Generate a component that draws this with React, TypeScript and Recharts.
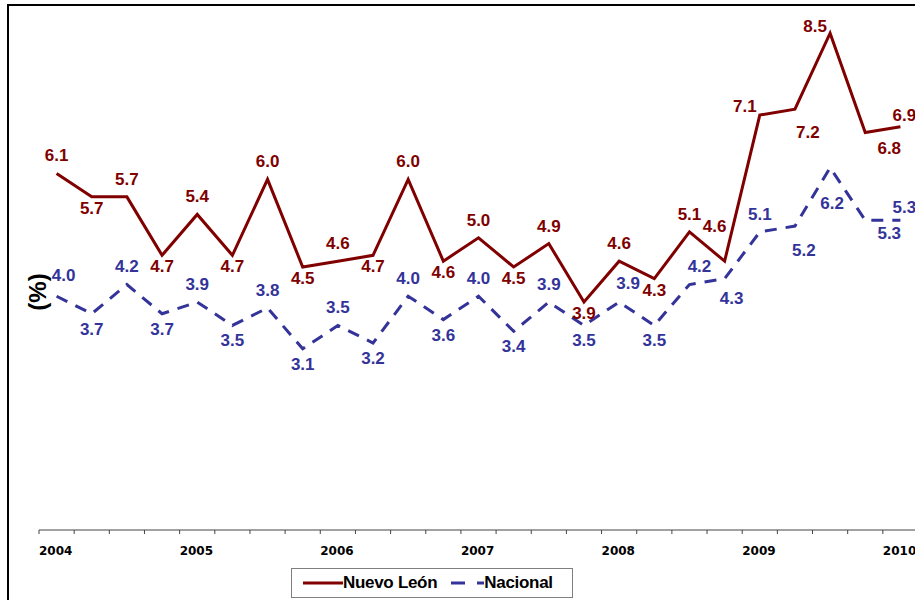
import React from 'react';
import { LineChart, Line, XAxis, YAxis, Legend, LabelList, Label } from 'recharts';

const quarters = [
  '2004-I', '2004-II', '2004-III', '2004-IV',
  '2005-I', '2005-II', '2005-III', '2005-IV',
  '2006-I', '2006-II', '2006-III', '2006-IV',
  '2007-I', '2007-II', '2007-III', '2007-IV',
  '2008-I', '2008-II', '2008-III', '2008-IV',
  '2009-I', '2009-II', '2009-III', '2009-IV',
  '2010-I',
];
const yearLabels = ['2004', '2005', '2006', '2007', '2008', '2009', '2010'];
const nuevoLeon = [6.1, 5.7, 5.7, 4.7, 5.4, 4.7, 6.0, 4.5, 4.6, 4.7, 6.0, 4.6, 5.0, 4.5, 4.9, 3.9, 4.6, 4.3, 5.1, 4.6, 7.1, 7.2, 8.5, 6.8, 6.9];
const nacional = [4.0, 3.7, 4.2, 3.7, 3.9, 3.5, 3.8, 3.1, 3.5, 3.2, 4.0, 3.6, 4.0, 3.4, 3.9, 3.5, 3.9, 3.5, 4.2, 4.3, 5.1, 5.2, 6.2, 5.3, 5.3];

const data = quarters.map((q, i) => ({ q, x: i + 0.5, nl: nuevoLeon[i], nac: nacional[i] }));
const tickPositions = quarters.map((_, i) => i);

const NL_COLOR = '#800000';
const NAC_COLOR = '#333399';
const LABEL_FONT = 'Arial, "Liberation Sans", sans-serif';

// label placement tweaks (dx, dy) relative to point
const nlOverrides: Record<number, [number, number]> = {
  19: [-10, -35], 20: [-15, -9], 21: [13, 23], 22: [-15, -7], 23: [24, 15], 24: [4, -12],
};
const nacOverrides: Record<number, [number, number]> = {
  0: [7, -21], 16: [9, -19], 18: [10, -18], 19: [7, 19], 21: [9, 24], 22: [2, 35], 23: [24, 13], 24: [4, -13],
};

const makeLabel = (color: string, overrides: Record<number, [number, number]>, up: number, down: number) =>
  (props: any) => {
    const { value, index } = props;
    const px = props.x ?? props.viewBox?.x;
    const py = props.y ?? props.viewBox?.y;
    let dx = 0;
    let dy = index % 2 === 0 ? up : down;
    if (overrides[index]) { dx = overrides[index][0]; dy = overrides[index][1]; }
    return (
      <text x={px + dx} y={py + dy} dy="0.35em" textAnchor="middle" fill={color}
        fontFamily={LABEL_FONT} fontWeight="bold" fontSize={17}>
        {Number(value).toFixed(1)}
      </text>
    );
  };

const NlLabel = makeLabel(NL_COLOR, nlOverrides, -18, 11);
const NacLabel = makeLabel(NAC_COLOR, nacOverrides, -18, 15);

const YearTick = (props: any) => {
  const { x, y, payload } = props;
  const v = payload.value;
  if (v % 4 !== 0) return null;
  const label = yearLabels[v / 4];
  return (
    <text x={x} y={y + 19} textAnchor="start" fill="#000" fontFamily='"DejaVu Sans", sans-serif'
      fontWeight="bold" fontSize={12}>{label}</text>
  );
};

const YLabel = (props: any) => {
  const vb = props.viewBox || {};
  const cx = (vb.x ?? 38) + (vb.width ?? 1) - 1;
  const cy = (vb.y ?? 4) + (vb.height ?? 526) / 2 + 25;
  return (
    <text x={cx} y={cy} transform={`rotate(-90 ${cx} ${cy})`} textAnchor="middle" dy="0.35em"
      fontFamily={LABEL_FONT} fontWeight="bold" fontSize={24} fill="#000">(%)</text>
  );
};

const LegendContent = () => (
  <div style={{
    width: 282, height: 30, boxSizing: 'border-box', border: '1px solid #7f7f7f', background: '#fff',
    display: 'flex', alignItems: 'center', fontFamily: LABEL_FONT, fontWeight: 'bold', fontSize: 17,
    letterSpacing: -0.3,
  }}>
    <svg width={51} height={10} style={{ marginLeft: 0 }}>
      <line x1={11} y1={5} x2={51} y2={5} stroke={NL_COLOR} strokeWidth={3} />
    </svg>
    <span style={{ color: '#000' }}>Nuevo León</span>
    <svg width={47} height={10}>
      <line x1={14} y1={5} x2={47} y2={5} stroke={NAC_COLOR} strokeWidth={3} strokeDasharray="14 12 7 0" />
    </svg>
    <span style={{ color: '#000' }}>Nacional</span>
  </div>
);

export default function App() {
  return (
    <div style={{ position: 'fixed', left: 0, top: 0, width: 915, height: 600, overflow: 'hidden', background: '#fff' }}>
      <div style={{
        position: 'absolute', left: 7, top: 4, width: 1000, height: 1000,
        borderLeft: '2px solid #000', borderTop: '2px solid #000',
      }} />
      <div style={{ position: 'absolute', left: 0, top: 0 }}>
        <LineChart width={918} height={600} data={data} margin={{ top: 4, right: 0, bottom: 40, left: 1 }}>
          <XAxis
            dataKey="x" type="number" domain={[0, 25]} ticks={tickPositions} interval={0}
            height={30} axisLine={{ stroke: '#444', strokeWidth: 1 }} tickLine={{ stroke: '#444' }}
            tickSize={4} tick={<YearTick />} allowDataOverflow
          />
          <YAxis type="number" domain={[0, 9]} width={38} axisLine={false} tickLine={false} tick={false}>
            <Label content={<YLabel />} />
          </YAxis>
          <Legend
            layout="horizontal" verticalAlign="middle" align="center"
            wrapperStyle={{ position: 'absolute', left: 291, top: 568, width: 282, height: 30 }}
            content={<LegendContent />}
          />
          <Line dataKey="nac" stroke={NAC_COLOR} strokeWidth={3} strokeDasharray="12 9" dot={false}
            isAnimationActive={false}>
            <LabelList dataKey="nac" content={NacLabel} />
          </Line>
          <Line dataKey="nl" stroke={NL_COLOR} strokeWidth={3} dot={false} isAnimationActive={false}>
            <LabelList dataKey="nl" content={NlLabel} />
          </Line>
        </LineChart>
      </div>
    </div>
  );
}
